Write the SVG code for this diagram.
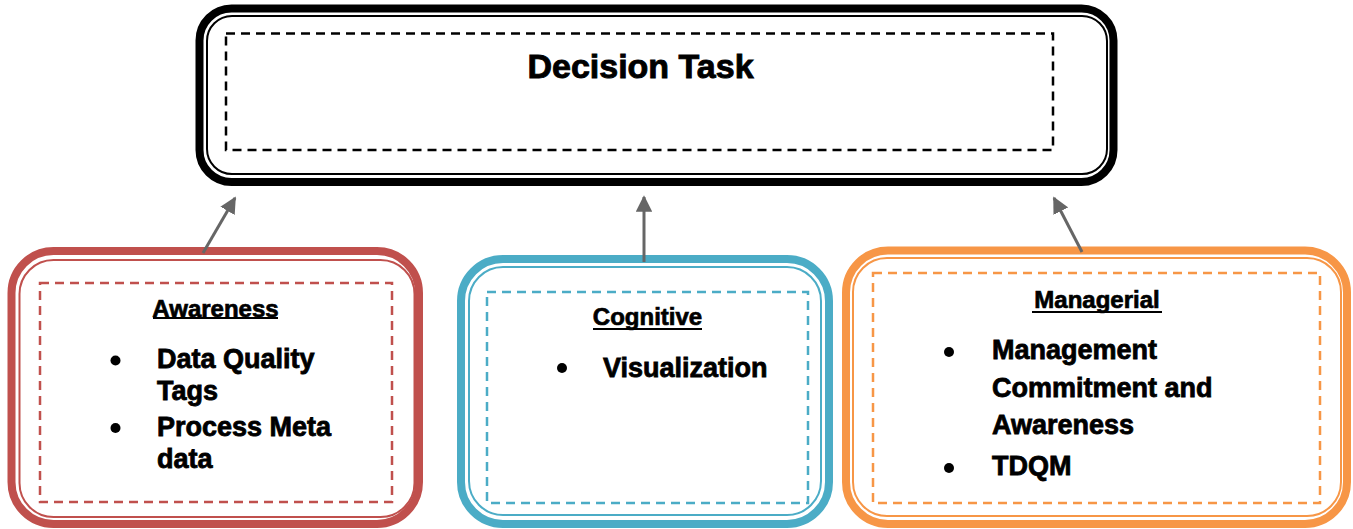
<svg xmlns="http://www.w3.org/2000/svg" width="1353" height="529" viewBox="0 0 1353 529">
  <style>
    .outer { fill: none; stroke-width: 8; }
    .inner { fill: none; stroke-width: 2; }
    .dash { fill: none; stroke-width: 2.5; stroke-dasharray: 9 6; }
    .title { font-family: "Liberation Sans", Arial, sans-serif; font-weight: bold; font-size: 34px; fill: #000; stroke: #000; stroke-width: 0.9; }
    .head { font-family: "Liberation Sans", Arial, sans-serif; font-weight: bold; font-size: 24px; fill: #000; stroke: #000; stroke-width: 0.7; text-anchor: middle; }
    .item { font-family: "Liberation Sans", Arial, sans-serif; font-weight: bold; font-size: 27px; fill: #000; stroke: #000; stroke-width: 0.8; }
    .bullet { fill: #000; }
    .conn { stroke: #666; stroke-width: 3; fill: none; marker-end: url(#arrow); }
  </style>
  <defs>
    <marker id="arrow" viewBox="0 0 10 10" refX="9" refY="5" markerWidth="5.5" markerHeight="5.5" orient="auto" markerUnits="strokeWidth">
      <path d="M0,0 L10,5 L0,10 Z" fill="#666"/>
    </marker>
  </defs>
  <rect width="1353" height="529" fill="#fff"/>

  <!-- Decision task (top) -->
  <g id="decision-task">
    <rect class="outer" x="199.5" y="8.5" width="914" height="173.5" rx="32" stroke="#000"/>
    <rect class="inner" x="207" y="16" width="900" height="158" rx="25" stroke="#000"/>
    <rect class="dash" x="226" y="33.5" width="827" height="116.5" stroke="#000" stroke-width="3"/>
    <text class="title" x="640.5" y="78" text-anchor="middle">Decision Task</text>
  </g>

  <!-- Awareness -->
  <g id="awareness">
    <rect class="outer" x="11.5" y="251" width="407.5" height="273" rx="42" stroke="#c0504d"/>
    <rect class="inner" x="19.5" y="260" width="395" height="257" rx="34" stroke="#c0504d"/>
    <rect class="dash" x="40" y="283" width="352" height="219" stroke="#c0504d" stroke-width="2"/>
    <text class="head" x="215.5" y="317">Awareness</text>
    <rect x="153" y="317" width="125" height="2" fill="#000"/>
    <circle class="bullet" cx="115.5" cy="360.5" r="5"/>
    <text class="item" x="157" y="368">Data Quality</text>
    <text class="item" x="157" y="400">Tags</text>
    <circle class="bullet" cx="115.5" cy="428" r="5"/>
    <text class="item" x="157" y="436">Process Meta</text>
    <text class="item" x="157" y="468">data</text>
  </g>

  <!-- Cognitive -->
  <g id="cognitive">
    <rect class="outer" x="461" y="259" width="368" height="265" rx="42" stroke="#4bacc6"/>
    <rect class="inner" x="469" y="267" width="352" height="248" rx="34" stroke="#4bacc6"/>
    <rect class="dash" x="487" y="292" width="321" height="211" stroke="#4bacc6" stroke-width="2"/>
    <text class="head" x="647.5" y="325">Cognitive</text>
    <rect x="593" y="328" width="109" height="2" fill="#000"/>
    <circle class="bullet" cx="562" cy="368" r="5"/>
    <text class="item" x="603" y="377">Visualization</text>
  </g>

  <!-- Managerial -->
  <g id="managerial">
    <rect class="outer" x="846" y="250.5" width="501" height="273.5" rx="42" stroke="#f79646"/>
    <rect class="inner" x="853" y="258" width="488" height="258" rx="34" stroke="#f79646"/>
    <rect class="dash" x="873" y="273" width="447" height="230" stroke="#f79646" stroke-width="2"/>
    <text class="head" x="1097" y="308">Managerial</text>
    <rect x="1032" y="311" width="130" height="2" fill="#000"/>
    <circle class="bullet" cx="949" cy="352" r="5"/>
    <text class="item" x="992" y="359">Management</text>
    <text class="item" x="992" y="397">Commitment and</text>
    <text class="item" x="992" y="434">Awareness</text>
    <circle class="bullet" cx="949" cy="468" r="5"/>
    <text class="item" x="992" y="475">TDQM</text>
  </g>

  <!-- Connectors -->
  <g id="connectors">
    <line class="conn" x1="203" y1="253" x2="235" y2="198"/>
    <line class="conn" x1="644" y1="262" x2="644" y2="197"/>
    <line class="conn" x1="1082" y1="252" x2="1054" y2="198"/>
  </g>
</svg>
